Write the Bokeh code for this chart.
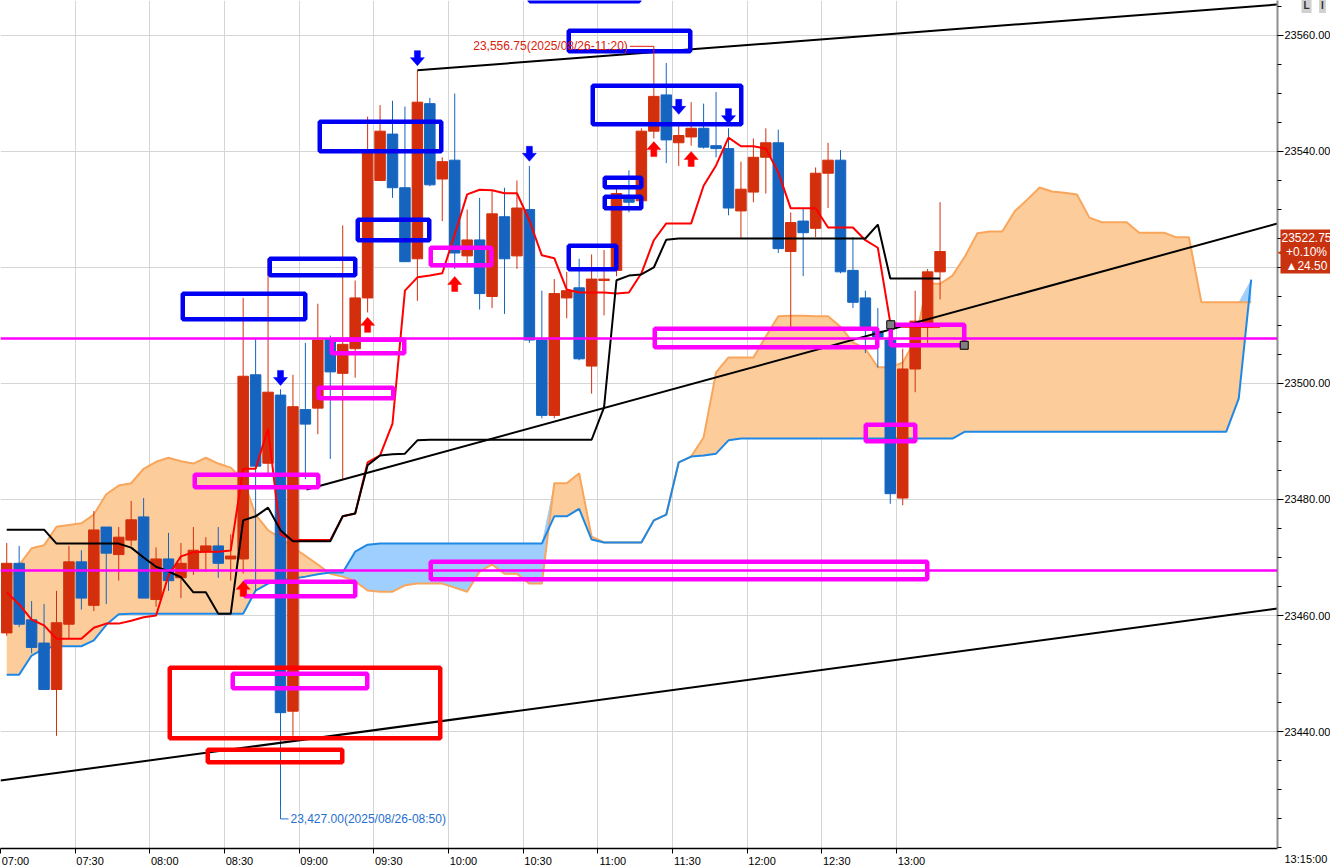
import numpy as np
from bokeh.plotting import figure
from bokeh.models import Range1d, FixedTicker, NumeralTickFormatter, Span, Label
from bokeh.core.properties import value
from bokeh.embed import file_html
from bokeh.resources import INLINE

# ------------------------------------------------------------------ data
candle_times = [f"{7 + m // 60:02d}:{m % 60:02d}" for m in range(0, 380, 5)]  # 07:00 .. 13:15

open_ = [23457.00, 23469.00, 23459.25, 23455.25, 23447.25, 23458.50, 23469.25, 23461.75, 23475.25, 23470.50,
         23473.00, 23477.00, 23462.75, 23469.75, 23466.50, 23468.00, 23471.00, 23472.00, 23469.75, 23469.75,
         23501.50, 23486.25, 23498.00, 23443.50, 23495.50, 23495.75, 23507.75, 23501.75, 23506.00, 23514.75,
         23535.00, 23543.00, 23533.75, 23521.50, 23548.25, 23535.25, 23538.50, 23522.00, 23524.75, 23515.00,
         23528.75, 23522.00, 23530.00, 23507.50, 23494.50, 23514.75, 23516.50, 23503.00, 23517.75, 23519.50,
         23532.00, 23531.50, 23543.50, 23549.75, 23541.50, 23542.50, 23544.00, 23541.00, 23540.50, 23529.75,
         23533.00, 23539.00, 23541.50, 23522.75, 23528.00, 23526.75, 23536.25, 23538.50, 23519.50, 23514.75,
         23509.00, 23507.50, 23480.25, 23502.50, 23509.75, 23519.25]
high = [23472.50, 23472.00, 23462.50, 23462.00, 23464.25, 23472.00, 23471.25, 23478.00, 23475.25, 23475.25,
        23479.75, 23480.25, 23471.75, 23474.25, 23472.50, 23475.25, 23473.50, 23475.25, 23474.00, 23514.75,
        23507.75, 23521.50, 23499.00, 23501.50, 23507.00, 23513.75, 23508.25, 23527.25, 23517.75, 23546.00,
        23548.00, 23548.75, 23547.75, 23554.00, 23549.25, 23539.00, 23550.00, 23530.00, 23532.00, 23533.25,
        23533.75, 23535.00, 23537.50, 23516.00, 23518.00, 23519.25, 23521.50, 23522.25, 23523.00, 23533.75,
        23536.75, 23544.00, 23556.75, 23555.25, 23544.75, 23548.50, 23548.25, 23550.25, 23544.00, 23538.25,
        23542.25, 23544.00, 23543.75, 23529.50, 23530.25, 23537.25, 23541.50, 23540.25, 23525.25, 23516.00,
        23513.00, 23510.50, 23506.00, 23516.00, 23519.75, 23531.25]
low = [23456.50, 23458.00, 23453.50, 23447.25, 23439.25, 23456.00, 23461.00, 23460.75, 23462.00, 23466.00,
       23472.00, 23463.00, 23461.50, 23464.25, 23463.00, 23467.00, 23467.50, 23466.50, 23466.00, 23467.25,
       23464.25, 23484.00, 23427.00, 23439.25, 23483.50, 23491.25, 23487.00, 23483.50, 23501.00, 23512.25,
       23535.00, 23532.00, 23521.00, 23514.25, 23534.00, 23528.00, 23519.75, 23520.75, 23512.75, 23513.00,
       23512.00, 23519.75, 23507.00, 23494.00, 23494.00, 23511.25, 23504.00, 23498.25, 23511.75, 23518.50,
       23529.50, 23531.50, 23542.25, 23538.00, 23537.50, 23541.00, 23540.50, 23539.00, 23529.00, 23525.00,
       23531.25, 23532.75, 23522.50, 23509.75, 23518.50, 23525.25, 23530.25, 23519.00, 23513.00, 23505.25,
       23502.75, 23479.25, 23479.00, 23498.50, 23507.00, 23514.50]
close = [23469.00, 23458.50, 23454.50, 23447.25, 23458.75, 23469.25, 23463.00, 23474.75, 23470.75, 23473.50,
         23476.50, 23463.00, 23469.75, 23466.00, 23469.00, 23471.25, 23472.00, 23469.00, 23470.25, 23501.25,
         23485.75, 23498.50, 23443.25, 23496.00, 23493.00, 23507.50, 23502.00, 23506.75, 23514.75, 23539.75,
         23543.50, 23533.75, 23521.00, 23548.50, 23534.25, 23538.25, 23522.50, 23524.75, 23515.50, 23529.25,
         23521.50, 23530.25, 23507.50, 23494.50, 23515.50, 23516.00, 23504.25, 23518.00, 23518.00, 23532.75,
         23531.25, 23543.50, 23549.50, 23542.00, 23542.75, 23544.00, 23540.75, 23540.50, 23530.25, 23533.50,
         23539.00, 23541.50, 23523.25, 23527.75, 23526.00, 23536.25, 23538.50, 23519.25, 23514.00, 23509.75,
         23508.00, 23481.00, 23502.50, 23510.75, 23519.25, 23522.75]

# conversion line (red) and base line (black), one value per candle
tenkan = [23464.0, 23461.9, 23459.3, 23458.3, 23456.0, 23456.0, 23456.0, 23457.9, 23458.6, 23458.6,
          23459.1, 23459.7, 23460.0, 23466.9, 23470.2, 23470.9, 23471.0, 23471.0, 23471.2, 23485.3,
          23485.3, 23492.2, 23474.0, 23473.0, 23473.0, 23473.0, 23473.0, 23477.1, 23477.6, 23486.4,
          23487.6, 23493.1, 23516.0, 23518.3, 23518.6, 23519.0, 23525.7, 23532.6, 23533.4, 23533.3,
          23532.8, 23532.8, 23528.1, 23522.1, 23521.6, 23516.2, 23515.7, 23515.7, 23515.7, 23515.5,
          23515.7, 23519.0, 23524.7, 23527.6, 23527.6, 23527.6, 23534.1, 23537.6, 23542.4, 23540.9,
          23540.9, 23540.5, 23536.4, 23530.2, 23530.2, 23530.2, 23526.9, 23526.9, 23526.9, 23524.7,
          23523.4, 23510.5, 23509.8, 23509.8, 23509.8, 23509.8]
kijun = [23474.8, 23474.8, 23474.8, 23474.8, 23472.4, 23472.4, 23472.4, 23472.4, 23472.4, 23472.4,
         23471.7, 23470.0, 23468.4, 23467.6, 23466.6, 23464.0, 23464.0, 23460.3, 23460.3, 23476.4,
         23477.1, 23478.6, 23474.7, 23472.8, 23472.8, 23472.8, 23472.8, 23477.1, 23477.6, 23485.9,
         23487.6, 23487.8, 23487.9, 23490.2, 23490.3, 23490.3, 23490.3, 23490.3, 23490.3, 23490.3,
         23490.3, 23490.3, 23490.3, 23490.3, 23490.3, 23490.3, 23490.3, 23490.3, 23495.9, 23517.8,
         23518.6, 23518.8, 23520.0, 23524.8, 23525.0, 23525.0, 23525.0, 23525.0, 23525.0, 23525.0,
         23525.0, 23525.0, 23525.0, 23525.0, 23525.0, 23525.0, 23525.0, 23525.0, 23525.0, 23525.0,
         23527.4, 23518.1, 23518.1, 23518.1, 23518.1, 23518.1]

# leading spans (cloud), one value per 5-minute slot, 07:00 .. 15:20
cloud_times = [f"{7 + m // 60:02d}:{m % 60:02d}" for m in range(0, 505, 5)]
span_a = [23465.7, 23468.7, 23471.6, 23472.1, 23475.3, 23475.6, 23475.9, 23477.4, 23480.9, 23482.4,
          23482.8, 23485.3, 23486.5, 23487.2, 23486.6, 23486.2, 23487.2, 23486.2, 23485.5, 23483.4,
          23477.4, 23474.7, 23473.4, 23471.7, 23470.3, 23468.8, 23467.2, 23466.7, 23465.9, 23464.3,
          23464.1, 23464.1, 23465.2, 23465.5, 23465.5, 23465.5, 23464.8, 23464.1, 23467.6, 23468.8,
          23467.2, 23467.2, 23465.5, 23465.5, 23482.8, 23482.8, 23484.5, 23473.6, 23472.6, 23472.6,
          23472.6, 23472.6, 23476.4, 23477.4, 23486.4, 23487.4, 23490.7, 23501.9, 23504.5, 23504.5,
          23504.5, 23508.1, 23511.6, 23511.7, 23511.7, 23511.6, 23511.6, 23509.8, 23507.1, 23506.0,
          23502.8, 23502.8, 23503.6, 23507.5, 23517.2, 23517.2, 23518.6, 23521.9, 23525.9, 23526.2,
          23526.2, 23529.7, 23531.7, 23533.8, 23533.1, 23532.9, 23532.6, 23528.6, 23527.8, 23527.8,
          23527.8, 23526.0, 23526.0, 23526.0, 23525.2, 23525.2, 23514.0, 23514.0, 23514.0, 23514.0,
          23514.0]
span_b = [23449.8, 23449.8, 23453.1, 23454.3, 23454.7, 23454.7, 23454.7, 23455.7, 23458.4, 23460.2,
          23460.3, 23460.3, 23460.3, 23460.3, 23460.3, 23460.3, 23460.3, 23460.3, 23460.3, 23460.3,
          23464.3, 23465.5, 23466.0, 23466.4, 23466.7, 23467.1, 23467.4, 23467.4, 23471.0, 23472.2,
          23472.4, 23472.4, 23472.4, 23472.4, 23472.4, 23472.4, 23472.4, 23472.4, 23472.4, 23472.4,
          23472.4, 23472.4, 23472.4, 23472.4, 23477.1, 23477.1, 23478.4, 23473.1, 23472.6, 23472.6,
          23472.6, 23472.6, 23476.4, 23477.4, 23486.4, 23487.4, 23487.6, 23487.9, 23490.2, 23490.5,
          23490.5, 23490.5, 23490.5, 23490.5, 23490.5, 23490.5, 23490.5, 23490.5, 23490.5, 23490.5,
          23490.5, 23490.5, 23490.5, 23490.5, 23490.5, 23490.5, 23490.5, 23491.7, 23491.7, 23491.7,
          23491.7, 23491.7, 23491.7, 23491.7, 23491.7, 23491.7, 23491.7, 23491.7, 23491.7, 23491.7,
          23491.7, 23491.7, 23491.7, 23491.7, 23491.7, 23491.7, 23491.7, 23491.7, 23491.7, 23497.4,
          23517.9]

# axis labels
x_tick_labels = ["07:00", "07:30", "08:00", "08:30", "09:00", "09:30", "10:00",
                 "10:30", "11:00", "11:30", "12:00", "12:30", "13:00"]
y_ticks = [23440, 23460, 23480, 23500, 23520, 23540, 23560]
last_time_label = "13:15:00"
price_tag = "23522.75\n+0.10%\n▲24.50"
high_label = "23,556.75(2025/08/26-11:20)"
low_label = "23,427.00(2025/08/26-08:50)"
high_idx, low_idx = 52, 22
corner_buttons = ["L", "I"]

# horizontal levels (magenta)
level_prices = [23507.75, 23467.75]

# drawn trend lines: (start minute, start price, end minute, end price)
trend_t0 = [167.5, 122.95, 0.0]
trend_p0 = [23554.0, 23481.72, 23431.55]
trend_t1 = [513.08, 513.08, 513.08]
trend_p1 = [23565.34, 23527.59, 23461.21]

# drawn boxes: minutes from 07:00 and prices
blue_t0 = [212.64, 228.32, 128.27, 237.96, 143.54, 108.18, 73.23, 242.78, 242.78, 228.32]
blue_t1 = [256.64, 277.13, 177.09, 297.62, 172.27, 142.53, 122.45, 257.45, 257.45, 247.40]
blue_lo = [23565.91, 23557.28, 23540.04, 23544.70, 23524.70, 23518.66, 23511.08, 23533.84, 23530.22, 23519.70]
blue_hi = [23575.00, 23560.82, 23545.13, 23551.34, 23528.23, 23521.51, 23515.47, 23535.47, 23532.20, 23523.76]
mag_t0 = [172.87, 133.09, 127.87, 78.05, 98.14, 93.31, 262.87, 357.69, 347.65, 172.87]
mag_t1 = [197.17, 162.22, 157.80, 127.67, 142.53, 147.35, 352.26, 387.22, 367.53, 372.35]
mag_lo = [23520.39, 23505.22, 23497.46, 23482.11, 23463.32, 23447.46, 23506.25, 23506.59, 23490.04, 23466.25]
mag_hi = [23523.41, 23507.54, 23499.27, 23484.27, 23465.82, 23449.96, 23509.44, 23510.13, 23492.89, 23469.27]
red_t0 = [68.00, 83.27]
red_t1 = [176.68, 137.31]
red_lo = [23438.84, 23434.70]
red_hi = [23451.00, 23436.85]
selected_box = 7  # magenta box showing its handles

# signal arrows: candle index and price of the arrow tip
down_arrow_idx = [22, 33, 42, 54, 58]
down_arrow_tip = [23499.66, 23554.8, 23538.3, 23546.4, 23544.8]
up_arrow_idx = [19, 29, 36, 52, 55]
up_arrow_tip = [23465.9, 23511.4, 23518.45, 23541.7, 23540.0]

# ------------------------------------------------------------------ layout / style
FRAME_W, FRAME_H = 1277, 848
RIGHT_W, BOTTOM_H = 53, 19
X0, X1 = 0.0, 513.08
Y0, Y1 = 23419.83, 23566.03
PXT = (X1 - X0) / FRAME_W      # minutes per pixel
PXP = (Y1 - Y0) / FRAME_H      # price per pixel

UP_C, DN_C = "#D42F0C", "#1565C0"
TAG_C = "#C8320E"
FONT = "Liberation Sans"


def minutes(s):
    hh, mm = s.split(":")
    return (int(hh) - 7) * 60 + int(mm)


cx = np.array([minutes(t) + 2.5 for t in candle_times])
cloud_x = np.array([minutes(t) + 2.5 for t in cloud_times])
o, h, l, c = map(np.array, (open_, high, low, close))
colors = [UP_C if cc >= oo else DN_C for oo, cc in zip(o, c)]

p = figure(frame_width=FRAME_W, frame_height=FRAME_H,
           x_range=Range1d(X0, X1), y_range=Range1d(Y0, Y1),
           y_axis_location="right", output_backend="svg", toolbar_location=None,
           min_border_left=0, min_border_top=0, min_border_right=RIGHT_W, min_border_bottom=BOTTOM_H,
           background_fill_color="white", border_fill_color="white")
p.outline_line_color = None

# grid
p.xgrid.ticker = FixedTicker(ticks=[minutes(t) for t in x_tick_labels])
p.ygrid.ticker = FixedTicker(ticks=y_ticks)
p.xgrid.grid_line_color = "#D5D5D5"
p.ygrid.grid_line_color = "#D5D5D5"

# x axis: labels sit just right of their tick
xa = p.xaxis[0]
label_pos = [minutes(t) + 6 for t in x_tick_labels]
xa.ticker = FixedTicker(ticks=label_pos, minor_ticks=[minutes(t) for t in x_tick_labels])
xa.major_label_overrides = {pos: lab for pos, lab in zip(label_pos, x_tick_labels)}
xa.major_tick_line_color = None
xa.major_tick_out = 0
xa.major_tick_in = 0
xa.minor_tick_line_color = "black"
xa.minor_tick_out = 5
xa.minor_tick_in = 0
xa.axis_line_color = "black"
xa.axis_line_width = 1.5
xa.major_label_standoff = 1
xa.major_label_text_font = FONT
xa.major_label_text_font_size = "11px"
xa.major_label_text_color = "black"

# y axis (right)
ya = p.yaxis[0]
ya.ticker = FixedTicker(ticks=y_ticks, minor_ticks=list(range(23420, 23566, 5)))
ya.formatter = NumeralTickFormatter(format="0.00")
ya.axis_line_color = "#8E8E8E"
ya.axis_line_width = 2
ya.major_tick_line_color = "black"
ya.minor_tick_line_color = "black"
ya.major_tick_out = 6
ya.major_tick_in = 0
ya.minor_tick_out = 4
ya.minor_tick_in = 0
ya.major_label_standoff = 1
ya.major_label_text_font = FONT
ya.major_label_text_font_size = "11px"
ya.major_label_text_color = "black"

# cloud
A, B = np.array(span_a), np.array(span_b)
top = np.maximum(A, B)
p.varea(x=cloud_x, y1=B, y2=top, fill_color="#FDCC9B")
p.varea(x=cloud_x, y1=A, y2=top, fill_color="#9ECFFF")
p.line(cloud_x, A, line_color="#F9A65C", line_width=2)
p.line(cloud_x, B, line_color="#1E88E5", line_width=2)

# candles
p.segment(x0=cx, y0=h, x1=cx, y1=l, line_color=colors, line_width=1)
p.vbar(x=cx, width=10.5 * PXT, top=np.maximum(o, c), bottom=np.minimum(o, c),
       fill_color=colors, line_color=colors, line_width=1)

# conversion / base lines
p.line(cx, tenkan, line_color="#FF0000", line_width=2)
p.line(cx, kijun, line_color="#000000", line_width=2)

# trend lines
for a0, b0, a1, b1 in zip(trend_t0, trend_p0, trend_t1, trend_p1):
    p.line([a0, a1], [b0, b1], line_color="black", line_width=2)

# horizontal levels
for lv in level_prices:
    p.add_layout(Span(location=lv, dimension="width", line_color="#FF00FF", line_width=2.5))

# boxes
p.quad(left=blue_t0, right=blue_t1, bottom=blue_lo, top=blue_hi,
       fill_alpha=0, line_color="#0000F5", line_width=4.5)
p.quad(left=mag_t0, right=mag_t1, bottom=mag_lo, top=mag_hi,
       fill_alpha=0, line_color="#FF00FF", line_width=4.5)
p.quad(left=red_t0, right=red_t1, bottom=red_lo, top=red_hi,
       fill_alpha=0, line_color="#FF0000", line_width=4.5)
p.scatter(x=[mag_t0[selected_box], mag_t1[selected_box]],
          y=[mag_hi[selected_box], mag_lo[selected_box]],
          marker="square", size=8, fill_color="#808080", line_color="black", line_width=1)


# arrows
def arrow(t, tip, down):
    s = 1 if down else -1
    xs = [t + dx * PXT for dx in (0, -7, -3, -3, 3, 3, 7)]
    ys = [tip + s * dy * PXP for dy in (0, 8, 8, 15, 15, 8, 8)]
    return xs, ys


dx_, dy_ = zip(*[arrow(cx[i], tp, True) for i, tp in zip(down_arrow_idx, down_arrow_tip)])
p.patches(list(dx_), list(dy_), fill_color="#0000FF", line_color="#0000FF", line_width=0.5)
ux_, uy_ = zip(*[arrow(cx[i], tp, False) for i, tp in zip(up_arrow_idx, up_arrow_tip)])
p.patches(list(ux_), list(uy_), fill_color="#FF0000", line_color="#FF0000", line_width=0.5)

# high / low labels with leaders
hx, hy = cx[high_idx], h[high_idx]
hy_lab = hy + 8 * PXP
p.line([hx - 24 * PXT, hx, hx], [hy_lab, hy_lab, hy], line_color="#E02010", line_width=1)
p.text(x=[hx - 26 * PXT], y=[hy_lab], text=[high_label], text_align="right", text_baseline="middle",
       text_font=value(FONT), text_font_size="12px", text_color="#D9200C")
lx, ly = cx[low_idx], l[low_idx]
ly_lab = ly - 12 * PXP
p.line([lx, lx, lx + 8 * PXT], [ly, ly_lab, ly_lab], line_color="#1F6FD0", line_width=1)
p.text(x=[lx + 10 * PXT], y=[ly_lab], text=[low_label], text_align="left", text_baseline="middle",
       text_font=value(FONT), text_font_size="12px", text_color="#1F6FD0")

# texts in the axis margin (placed in the right side panel so they are not clipped to the frame)
tag_y = FRAME_H - (close[-1] - Y0) / PXP     # canvas y of the last price
p.add_layout(Label(x=FRAME_W + 7, y=FRAME_H + BOTTOM_H / 2 + 1, x_units="canvas", y_units="canvas",
                   text=last_time_label, text_align="left", text_baseline="middle",
                   text_font=FONT, text_font_size="11px", text_color="black"), "right")
p.add_layout(Label(x=FRAME_W + 5, y=tag_y, x_units="canvas", y_units="canvas",
                   text="◀", text_align="center", text_baseline="middle",
                   text_font="DejaVu Sans", text_font_size="13px", text_color=TAG_C), "right")
p.add_layout(Label(x=FRAME_W + 29, y=tag_y, x_units="canvas", y_units="canvas",
                   text=price_tag, text_align="center", text_baseline="middle",
                   text_font=FONT, text_font_size="12px", text_color="white",
                   text_line_height=1.0, background_fill_color=TAG_C, padding=1), "right")
for k, btn in enumerate(corner_buttons):
    p.add_layout(Label(x=1306 + 16 * k, y=5, x_units="canvas", y_units="canvas",
                       text=btn, text_align="center", text_baseline="middle",
                       text_font=FONT, text_font_size="10px", text_font_style="bold",
                       text_color="#303030", background_fill_color="#D0D0D0", padding=2), "right")

html = file_html(p, INLINE)
open("out.html", "w").write(html)
